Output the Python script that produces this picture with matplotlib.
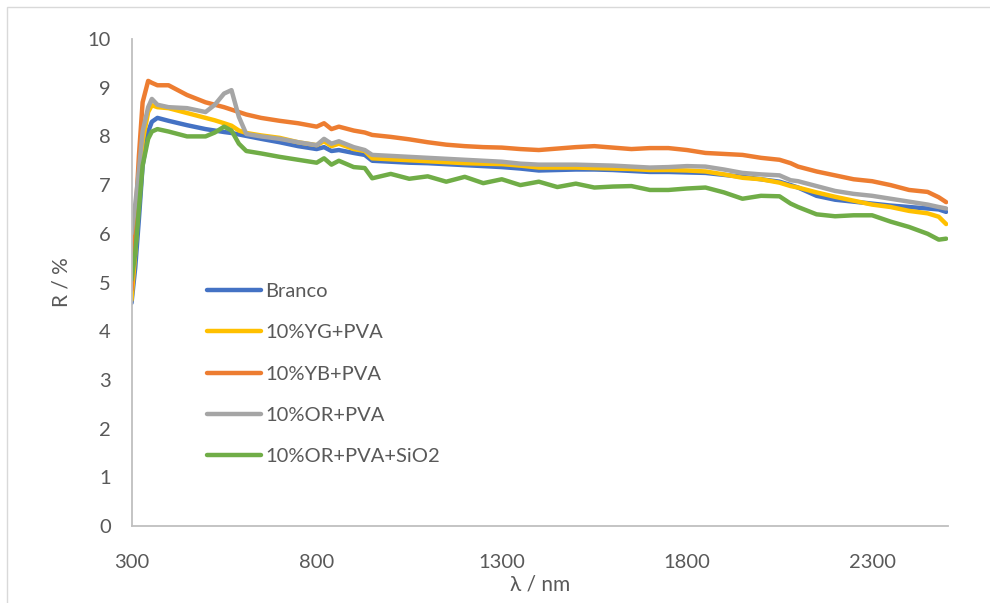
import numpy as np
import matplotlib.pyplot as plt
from matplotlib.patches import Rectangle

plt.rcParams['font.family'] = ['Lato', 'DejaVu Sans']

#####################################################

wl = [300, 310, 320, 330, 345, 355, 370, 400, 450, 500, 525, 550, 570, 590, 610,
      650, 700, 750, 800, 820, 840, 860, 900, 930, 950, 1000, 1050, 1100, 1150,
      1200, 1250, 1300, 1350, 1400, 1450, 1500, 1550, 1600, 1650, 1700, 1750,
      1800, 1850, 1900, 1950, 2000, 2050, 2080, 2100, 2150, 2200, 2250, 2300,
      2350, 2400, 2450, 2480, 2500]

branco = [4.58, 5.3, 6.3, 7.4, 8.1, 8.3, 8.38, 8.32, 8.23, 8.15, 8.12, 8.09, 8.07,
          8.04, 8.01, 7.95, 7.88, 7.8, 7.74, 7.78, 7.7, 7.72, 7.66, 7.62, 7.5,
          7.48, 7.46, 7.45, 7.43, 7.41, 7.39, 7.37, 7.34, 7.3, 7.31, 7.32, 7.32,
          7.31, 7.29, 7.27, 7.27, 7.26, 7.25, 7.21, 7.17, 7.12, 7.07, 7.0, 6.95,
          6.78, 6.7, 6.66, 6.62, 6.58, 6.55, 6.52, 6.5, 6.45]

yg_pva = [4.64, 5.6, 6.8, 7.9, 8.5, 8.64, 8.6, 8.58, 8.48, 8.38, 8.33, 8.27, 8.22,
          8.12, 8.07, 8.02, 7.97, 7.88, 7.82, 7.9, 7.8, 7.85, 7.74, 7.7, 7.55,
          7.53, 7.51, 7.49, 7.47, 7.45, 7.44, 7.43, 7.4, 7.36, 7.36, 7.36, 7.35,
          7.34, 7.33, 7.31, 7.31, 7.3, 7.28, 7.22, 7.15, 7.12, 7.05, 6.98, 6.95,
          6.85, 6.76, 6.68, 6.6, 6.55, 6.47, 6.42, 6.35, 6.2]

yb_pva = [4.85, 6.2, 7.6, 8.7, 9.14, 9.1, 9.05, 9.05, 8.85, 8.7, 8.65, 8.6, 8.55,
          8.5, 8.45, 8.38, 8.32, 8.27, 8.2, 8.27, 8.15, 8.2, 8.12, 8.08, 8.03,
          7.99, 7.94, 7.88, 7.83, 7.8, 7.78, 7.77, 7.74, 7.72, 7.75, 7.78, 7.8,
          7.77, 7.74, 7.76, 7.76, 7.72, 7.66, 7.64, 7.62, 7.56, 7.52, 7.45, 7.38,
          7.28, 7.2, 7.12, 7.08, 7.0, 6.9, 6.86, 6.75, 6.65]

or_pva = [6.0, 6.6, 7.3, 8.1, 8.6, 8.77, 8.65, 8.6, 8.58, 8.5, 8.65, 8.88, 8.95,
          8.4, 8.05, 8.0, 7.95, 7.88, 7.82, 7.95, 7.85, 7.9, 7.78, 7.72, 7.62,
          7.6, 7.58, 7.56, 7.54, 7.52, 7.5, 7.48, 7.44, 7.42, 7.42, 7.42, 7.41,
          7.4, 7.38, 7.36, 7.37, 7.39, 7.38, 7.32, 7.25, 7.22, 7.2, 7.1, 7.08,
          6.98, 6.88, 6.82, 6.78, 6.72, 6.66, 6.6, 6.55, 6.52]

or_pva_sio2 = [5.05, 5.6, 6.5, 7.4, 7.95, 8.1, 8.15, 8.1, 8.0, 8.0, 8.08, 8.2, 8.12,
               7.85, 7.7, 7.65, 7.58, 7.52, 7.46, 7.55, 7.42, 7.5, 7.37, 7.35, 7.14,
               7.23, 7.13, 7.18, 7.07, 7.17, 7.04, 7.12, 7.0, 7.07, 6.96, 7.03, 6.95,
               6.97, 6.98, 6.9, 6.9, 6.93, 6.95, 6.85, 6.72, 6.78, 6.77, 6.62, 6.55,
               6.4, 6.36, 6.38, 6.38, 6.25, 6.14, 6.0, 5.88, 5.9]

names = ['Branco', '10%YG+PVA', '10%YB+PVA', '10%OR+PVA', '10%OR+PVA+SiO2']
colors = ['#4472C4', '#FFC000', '#ED7D31', '#A5A5A5', '#70AD47']

#####################################################

fig = plt.figure(figsize=(9.9, 6.03), dpi=100)
ax = fig.add_axes([131.5/990, 1-526/603, 816.5/990, 487/603])

series = [branco, yg_pva, yb_pva, or_pva, or_pva_sio2]
for vals, name, c in zip(series, names, colors):
    ax.plot(wl, vals, color=c, lw=3.2, label=name, solid_capstyle='round',
            solid_joinstyle='round')

ax.set_xlim(300, 2505)
ax.set_ylim(0, 10)
ax.set_xticks([300, 800, 1300, 1800, 2300])
ax.set_yticks(range(0, 11))
ax.tick_params(length=0, labelsize=14.5, labelcolor='#595959')
ax.tick_params(axis='x', pad=20)
ax.tick_params(axis='y', pad=15)
for s in ['top', 'right']:
    ax.spines[s].set_visible(False)
for s in ['left', 'bottom']:
    ax.spines[s].set_color('#BFBFBF')
    ax.spines[s].set_linewidth(1.3)

ax.set_ylabel('R / %', fontsize=15, color='#595959')
ax.yaxis.set_label_coords(-0.073, 0.5)
ax.set_xlabel('λ / nm', fontsize=15, color='#595959', labelpad=3)

ax.legend(loc='upper left', bbox_to_anchor=(0.0925, 0.499), frameon=False,
          fontsize=14.5, labelcolor='#595959', handlelength=2.7,
          handletextpad=0.2, labelspacing=1.2, borderpad=0, borderaxespad=0)

fig.patches.append(Rectangle((7/990, -0.1), 1.2, 1.1 - 7/603, fill=False,
                             edgecolor='#D9D9D9', lw=1, transform=fig.transFigure))

fig.savefig('out.png', dpi=100)
